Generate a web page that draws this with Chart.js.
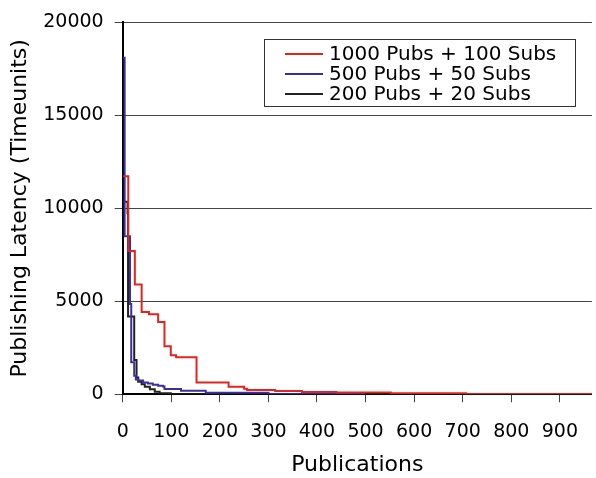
<!DOCTYPE html>
<html>
<head>
<meta charset="utf-8">
<script src="https://cdn.jsdelivr.net/npm/chart.js@4.4.1/dist/chart.umd.min.js"></script>
<style>
html,body{margin:0;padding:0;background:#fff;}
#wrap{width:596px;height:478px;}
</style>
</head>
<body>
<div id="wrap"><canvas id="c" width="596" height="478"></canvas></div>
<script>
// ---- data ----
const seriesLabels = ['1000 Pubs + 100 Subs', '500 Pubs + 50 Subs', '200 Pubs + 20 Subs'];
const seriesColors = ['#e3241c', '#3b2f9e', '#222222'];

const redX = [1, 11.5, 25, 39, 54, 73, 86, 99, 110, 152, 218, 250, 256, 314, 369, 440, 552, 707, 1000];
const redY = [11730, 7710, 5900, 4420, 4310, 3890, 2580, 2100, 1990, 640, 400, 300, 230, 175, 120, 100, 60, 20, 20];

const blueX = [1, 4, 15, 17.6, 23.7, 27, 32, 42, 52, 62, 73, 83, 86, 120, 171, 300, 500];
const blueY = [18100, 8500, 4850, 1720, 1000, 790, 740, 640, 580, 520, 455, 420, 290, 190, 85, 20, 20];

const blackX = [1, 10, 11, 23.7, 28.5, 32, 39, 45.5, 56, 66, 76, 99, 200];
const blackY = [10350, 9740, 4190, 1850, 900, 670, 545, 400, 265, 137, 53, 0, 0];

const xTicks = [0, 100, 200, 300, 400, 500, 600, 700, 800, 900];
const yTicks = [0, 5000, 10000, 15000, 20000];

const xTitle = 'Publications';
const yTitle = 'Publishing Latency (Timeunits)';

function pts(xs, ys) { return xs.map((x, i) => ({x: x, y: ys[i]})); }

const FONT = "'DejaVu Sans', Verdana, sans-serif";

const boxLegend = {
  id: 'boxLegend',
  afterDatasetsDraw(chart) {
    const ctx = chart.ctx;
    const bx = 264.5, by = 39.5, bw = 311, bh = 67;
    ctx.save();
    ctx.fillStyle = '#fff';
    ctx.fillRect(bx, by, bw, bh);
    ctx.strokeStyle = '#333';
    ctx.lineWidth = 1;
    ctx.strokeRect(bx, by, bw, bh);
    ctx.font = '20px ' + FONT;
    ctx.textBaseline = 'middle';
    ctx.fillStyle = '#000';
    chart.data.datasets.forEach((ds, i) => {
      const y = 54 + i * 20;
      ctx.strokeStyle = ds.borderColor;
      ctx.lineWidth = 2;
      ctx.beginPath();
      ctx.moveTo(285, y);
      ctx.lineTo(323, y);
      ctx.stroke();
      ctx.fillText(ds.label, 329, y + 1);
    });
    ctx.restore();
  }
};

new Chart(document.getElementById('c'), {
  type: 'line',
  data: {
    datasets: [
      {label: seriesLabels[0], data: pts(redX, redY), borderColor: seriesColors[0]},
      {label: seriesLabels[1], data: pts(blueX, blueY), borderColor: seriesColors[1]},
      {label: seriesLabels[2], data: pts(blackX, blackY), borderColor: seriesColors[2]}
    ].map(d => Object.assign(d, {stepped: 'before', borderWidth: 2, pointRadius: 0, fill: false, tension: 0}))
  },
  options: {
    responsive: false,
    animation: false,
    devicePixelRatio: 1,
    layout: {padding: {left: 0, right: 0, top: 15.7, bottom: 0}},
    plugins: {legend: {display: false}, tooltip: {enabled: false}},
    scales: {
      x: {
        type: 'linear',
        min: 0,
        max: 966,
        afterBuildTicks: s => { s.ticks = xTicks.map(v => ({value: v})); },
        afterFit: s => { s.height = 83.7; },
        grid: {drawOnChartArea: false, drawTicks: true, tickLength: 8, color: '#444', lineWidth: 1},
        border: {color: '#000', width: 2},
        ticks: {color: '#000', font: {family: FONT, size: 19}, padding: 18, maxRotation: 0, autoSkip: false,
                callback: v => String(v)},
        title: {display: true, text: xTitle, color: '#000', font: {family: FONT, size: 22}, padding: {top: 0, bottom: 0}}
      },
      y: {
        min: 0,
        max: 20000,
        afterBuildTicks: s => { s.ticks = yTicks.map(v => ({value: v})); },
        afterFit: s => { s.width = 122.7; },
        grid: {drawTicks: true, tickLength: 8, color: '#444', lineWidth: 1},
        border: {color: '#000', width: 2},
        ticks: {color: '#000', font: {family: FONT, size: 19}, padding: 11, callback: v => String(v)},
        title: {display: true, text: yTitle, color: '#000', font: {family: FONT, size: 22}, padding: {top: 7.4, bottom: 0}}
      }
    }
  },
  plugins: [boxLegend]
});
</script>
</body>
</html>
